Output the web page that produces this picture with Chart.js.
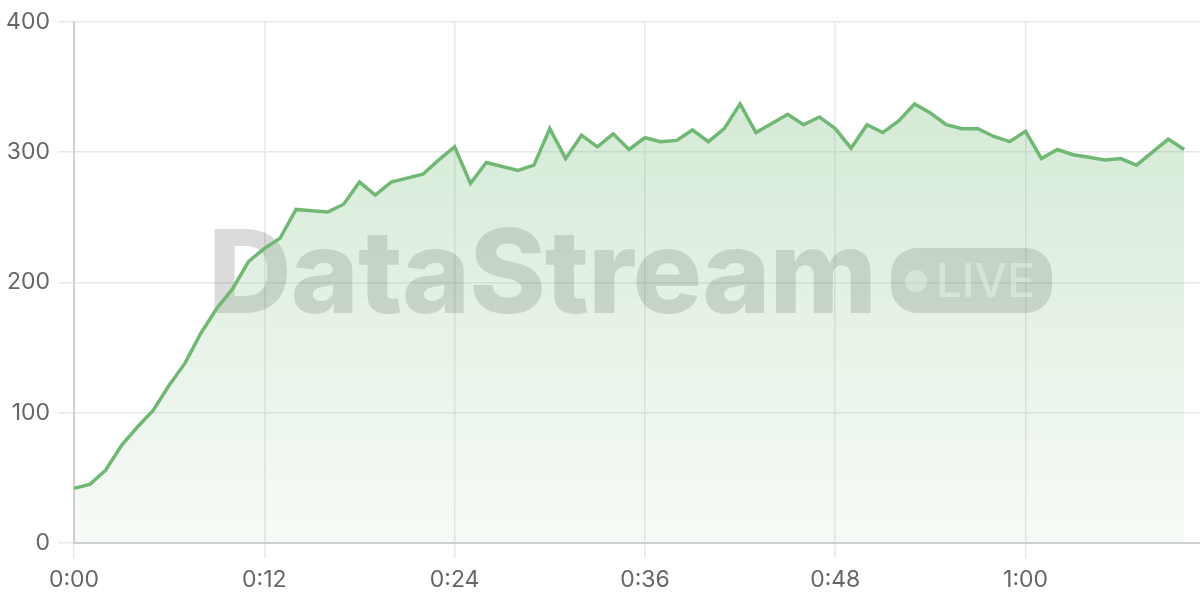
<!DOCTYPE html>
<html>
<head>
<meta charset="utf-8">
<script src="https://cdn.jsdelivr.net/npm/chart.js@4.4.1/dist/chart.umd.min.js"></script>
<style>
  html, body { margin: 0; padding: 0; background: #fff; }
  #wrap { width: 1200px; height: 600px; }
</style>
</head>
<body>
<div id="wrap"><canvas id="chart"></canvas></div>
<script>
// seconds since start
const seconds = [];
for (let s = 0; s <= 70; s++) seconds.push(s);

const viewers = [
  42, 45, 56, 75, 89, 102, 121, 138, 161, 180,
  195, 216, 226, 234, 256, 255, 254, 260, 277, 267,
  277, 280, 283, 294, 304, 276, 292, 289, 286, 290,
  318, 295, 313, 304, 314, 302, 311, 308, 309, 317,
  308, 318, 337, 315, 322, 329, 321, 327, 318, 303,
  321, 315, 324, 337, 330, 321, 318, 318, 312, 308,
  316, 295, 302, 298, 296, 294, 295, 290, 300, 310,
  302
];

const xTicks = [0, 12, 24, 36, 48, 60];
const yTicks = [0, 100, 200, 300, 400];

const GREEN = '#70b873';

function fmtTime(v) {
  const m = Math.floor(v / 60);
  const s = v % 60;
  return m + ':' + String(s).padStart(2, '0');
}

const watermark = {
  id: 'watermark',
  beforeDatasetsDraw(chart) {
    const ctx = chart.ctx;
    ctx.save();
    ctx.fillStyle = 'rgba(0,0,0,0.14)';
    ctx.font = '800 116px Inter';
    ctx.letterSpacing = '-1px';
    ctx.textBaseline = 'alphabetic';
    ctx.textAlign = 'left';
    ctx.fillText('DataStream', 208, 313);

    // LIVE badge
    ctx.letterSpacing = '0px';
    ctx.beginPath();
    ctx.roundRect(891, 248, 161, 65, 26);
    ctx.fill();
    ctx.fillStyle = 'rgba(255,255,255,0.55)';
    ctx.beginPath();
    ctx.arc(916, 281, 11, 0, Math.PI * 2);
    ctx.fill();
    ctx.font = '500 46px Inter';
    ctx.fillText('LIVE', 936, 297);
    ctx.restore();
  }
};

const ctx = document.getElementById('chart').getContext('2d');

new Chart(ctx, {
  type: 'line',
  data: {
    labels: seconds,
    datasets: [{
      data: seconds.map((s, i) => ({ x: s, y: viewers[i] })),
      borderColor: GREEN,
      borderWidth: 3.5,
      pointRadius: 0,
      tension: 0,
      fill: true,
      backgroundColor: (c) => {
        const area = c.chart.chartArea;
        if (!area) return 'rgba(112,184,115,0.2)';
        const g = c.chart.ctx.createLinearGradient(0, area.top, 0, area.bottom);
        g.addColorStop(0, 'rgba(112,184,115,0.34)');
        g.addColorStop(1, 'rgba(112,184,115,0.06)');
        return g;
      }
    }]
  },
  options: {
    responsive: true,
    maintainAspectRatio: false,
    animation: false,
    layout: { padding: { top: 19, right: 0, left: 0, bottom: 0 } },
    plugins: {
      legend: { display: false },
      tooltip: { enabled: false }
    },
    scales: {
      x: {
        type: 'linear',
        min: 0,
        max: 71,
        afterFit: (scale) => { scale.height = 57; },
        afterBuildTicks: (scale) => { scale.ticks = xTicks.map(v => ({ value: v })); },
        ticks: {
          callback: (v) => fmtTime(v),
          color: '#666',
          font: { family: 'Inter', size: 23 },
          padding: 8,
          maxRotation: 0
        },
        grid: { color: '#e8e8e8', lineWidth: 1.5, tickLength: 15 },
        border: { color: '#d0d0d0', width: 2 }
      },
      y: {
        min: 0,
        max: 400,
        afterFit: (scale) => { scale.width = 74; },
        afterBuildTicks: (scale) => { scale.ticks = yTicks.map(v => ({ value: v })); },
        ticks: {
          color: '#666',
          font: { family: 'Inter', size: 23 },
          padding: 8
        },
        grid: { color: '#e8e8e8', lineWidth: 1.5, tickLength: 16 },
        border: { color: '#d0d0d0', width: 2 }
      }
    }
  },
  plugins: [watermark]
});
</script>
</body>
</html>
